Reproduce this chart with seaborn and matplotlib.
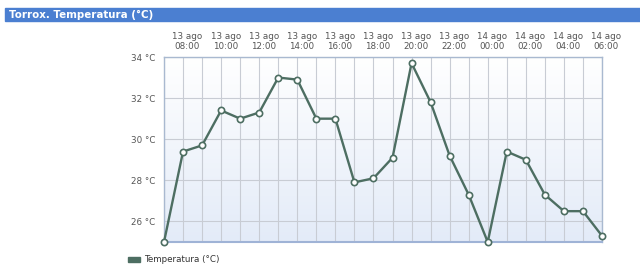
import matplotlib
matplotlib.use("Agg")
import matplotlib.pyplot as plt
import matplotlib.transforms as mtransforms
import seaborn as sns
import numpy as np
import pandas as pd
from matplotlib.patches import Rectangle, Patch
from matplotlib.ticker import FixedLocator
from matplotlib.colors import LinearSegmentedColormap

hours = ["07:00", "08:00", "09:00", "10:00", "11:00", "12:00", "13:00", "14:00",
         "15:00", "16:00", "17:00", "18:00", "19:00", "20:00", "21:00", "22:00",
         "23:00", "00:00", "01:00", "02:00", "03:00", "04:00", "05:00", "06:00"]
days = ["13 ago"] * 17 + ["14 ago"] * 7
temps = [25.0, 29.4, 29.7, 31.4, 31.0, 31.3, 33.0, 32.9, 31.0, 31.0, 27.9, 28.1,
         29.1, 33.7, 31.8, 29.2, 27.3, 25.0, 29.4, 29.0, 27.3, 26.5, 26.5, 25.3]
y_ticks = [26, 28, 30, 32, 34]

df = pd.DataFrame({"idx": np.arange(len(temps)), "temp": temps})

sns.set_theme(style="white")
plt.rcParams['font.family'] = ['DejaVu Sans']

fig = plt.figure(figsize=(6.4, 2.75), dpi=100)
ax = fig.add_axes([164/640, 1-242/275, (602-164)/640, (242-57)/275])

line_color = "#4d6e62"
n = len(temps)
ax.set_xlim(0, n - 1)
ax.set_ylim(25.0, 34.0)

# gradient background: white at top, light blue at bottom
grad = np.linspace(0, 1, 256).reshape(-1, 1)
cmap = LinearSegmentedColormap.from_list("bg", ["#ffffff", "#e3ebf8"])
ax.imshow(grad, extent=[0, n - 1, 25.0, 34.0], aspect="auto", cmap=cmap,
          zorder=0, origin="upper")
ax.set_ylim(25.0, 34.0)

# grid
for i in range(n):
    ax.axvline(i, color="#c8ccd4", lw=0.8, zorder=1)
for t in y_ticks:
    ax.axhline(t, color="#c8ccd4", lw=0.8, zorder=1)

sns.lineplot(data=df, x="idx", y="temp", ax=ax, color=line_color, lw=1.7,
             marker="o", markersize=4.5, markerfacecolor="white",
             markeredgecolor=line_color, markeredgewidth=1.2, zorder=3, clip_on=False)

ax.set_xlabel("")
ax.set_ylabel("")
label_idx = list(range(1, n, 2))
ax.xaxis.set_major_locator(FixedLocator(label_idx))
ax.set_xticklabels([f"{days[i]}\n{hours[i]}" for i in label_idx])
ax.xaxis.tick_top()
ax.tick_params(axis="x", top=False, bottom=False, length=0, labeltop=True, labelbottom=False,
               pad=4, labelsize=6.3, labelcolor="#555555")
offset = mtransforms.ScaledTranslation(4.5/100, 0, fig.dpi_scale_trans)
for lbl in ax.get_xticklabels():
    lbl.set_linespacing(1.15)
    lbl.set_transform(lbl.get_transform() + offset)
ax.set_yticks(y_ticks)
ax.set_yticklabels([f"{t} °C" for t in y_ticks])
ax.tick_params(axis="y", left=False, length=0, pad=6, labelsize=6.3, labelcolor="#555555")

for side, sp in ax.spines.items():
    sp.set_visible(True)
    sp.set_color("#a9b9d0")
    sp.set_linewidth(1.0)
ax.spines["bottom"].set_color("#9fb3d6")
ax.spines["bottom"].set_linewidth(1.5)

# title bar
fig.patches.append(Rectangle((5/640, 1-21/275), 635/640, 13/275, transform=fig.transFigure,
                             color="#4b7fd1", zorder=0))
fig.text(9/640, 1-14.5/275, "Torrox. Temperatura (°C)", color="white", fontsize=7.4,
         fontweight="bold", va="center", ha="left")

# legend
fig.legend(handles=[Patch(color=line_color, label="Temperatura (°C)")],
           loc="center left", bbox_to_anchor=(120/640, 1-260/275), frameon=False,
           fontsize=6.3, handlelength=1.4, handleheight=0.6, handletextpad=0.4,
           labelcolor="#333333")

fig.savefig("out.png", dpi=100)
